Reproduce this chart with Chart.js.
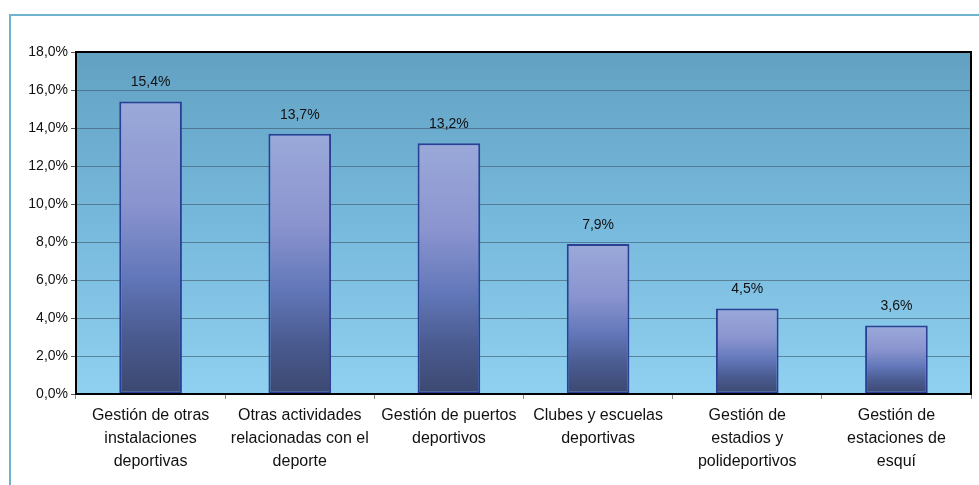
<!DOCTYPE html>
<html>
<head>
<meta charset="utf-8">
<script src="https://cdn.jsdelivr.net/npm/chart.js@4"></script>
<style>
  html, body { margin: 0; padding: 0; background: #fff; }
  #wrap { width: 979px; height: 485px; position: relative; }
</style>
</head>
<body>
<div id="wrap"><canvas id="chart" width="979" height="485"></canvas></div>
<script>
var categories = [
  ["Gestión de otras", "instalaciones", "deportivas"],
  ["Otras actividades", "relacionadas con el", "deporte"],
  ["Gestión de puertos", "deportivos"],
  ["Clubes y escuelas", "deportivas"],
  ["Gestión de", "estadios y", "polideportivos"],
  ["Gestión de", "estaciones de", "esquí"]
];
var shares = [15.4, 13.7, 13.2, 7.9, 4.5, 3.6];
var yMax = 18;
var yStep = 2;

function pct(v) {
  return v.toFixed(1).replace('.', ',') + '%';
}

// frame + plot area gradient + black border + value labels
var decor = {
  id: 'decor',
  beforeDraw: function (chart) {
    var c = chart.ctx, a = chart.chartArea;
    c.save();
    c.strokeStyle = '#6fb3cc';
    c.lineWidth = 2;
    c.strokeRect(10, 15, 1100, 1000);
    var g = c.createLinearGradient(0, a.top, 0, a.bottom);
    g.addColorStop(0, '#62a1c2');
    g.addColorStop(0.5, '#77b9dc');
    g.addColorStop(1, '#90d0f0');
    c.fillStyle = g;
    c.fillRect(a.left, a.top, a.right - a.left, a.bottom - a.top);
    c.restore();
  },
  afterDatasetsDraw: function (chart) {
    var c = chart.ctx, a = chart.chartArea;
    c.save();
    c.strokeStyle = '#000';
    c.lineWidth = 2;
    c.strokeRect(a.left, a.top, a.right - a.left, a.bottom - a.top);
    c.fillStyle = '#111';
    c.font = '14px "Liberation Sans", Arial, sans-serif';
    c.textAlign = 'center';
    c.textBaseline = 'middle';
    var meta = chart.getDatasetMeta(0);
    meta.data.forEach(function (bar, i) {
      c.fillText(pct(shares[i]), bar.x, bar.y - 19);
    });
    c.restore();
  }
};

var ctx = document.getElementById("chart");
new Chart(ctx, {
  type: "bar",
  data: {
    labels: categories,
    datasets: [{
      label: "Share",
      data: shares,
      borderColor: '#2b3f97',
      borderWidth: 2,
      borderSkipped: false,
      backgroundColor: function (context) {
        var chart = context.chart;
        var y = chart.scales.y;
        if (!chart.chartArea || !y) return '#6478bb';
        var top = y.getPixelForValue(shares[context.dataIndex]);
        var bottom = y.getPixelForValue(0);
        var g = chart.ctx.createLinearGradient(0, top, 0, bottom);
        g.addColorStop(0, '#9ba9d9');
        g.addColorStop(0.35, '#8a94cf');
        g.addColorStop(0.6, '#6277b9');
        g.addColorStop(0.8, '#4a5b90');
        g.addColorStop(1, '#3c4870');
        return g;
      },
      categoryPercentage: 1,
      barPercentage: 0.42
    }]
  },
  options: {
    responsive: false,
    animation: false,
    layout: {
      padding: { top: 52, right: 8, left: 0, bottom: 0 }
    },
    plugins: {
      legend: { display: false },
      tooltip: { enabled: false }
    },
    scales: {
      y: {
        min: 0,
        max: yMax,
        afterFit: function (scale) { scale.width = 76; },
        border: { display: false },
        grid: {
          color: 'rgba(60,85,105,0.6)',
          lineWidth: 1,
          drawTicks: true,
          tickLength: 5,
          tickColor: '#555'
        },
        ticks: {
          stepSize: yStep,
          padding: 3,
          color: '#111',
          font: { family: '"Liberation Sans", Arial, sans-serif', size: 14 },
          callback: function (v) { return pct(v); }
        }
      },
      x: {
        afterFit: function (scale) { scale.height = 91; },
        border: { display: false },
        grid: {
          offset: true,
          drawOnChartArea: false,
          drawTicks: true,
          tickLength: 5,
          tickColor: '#888'
        },
        ticks: {
          padding: 5,
          maxRotation: 0,
          autoSkip: false,
          color: '#111',
          font: { family: '"Liberation Sans", Arial, sans-serif', size: 16, lineHeight: 1.44 }
        }
      }
    }
  },
  plugins: [decor]
});
</script>
</body>
</html>
